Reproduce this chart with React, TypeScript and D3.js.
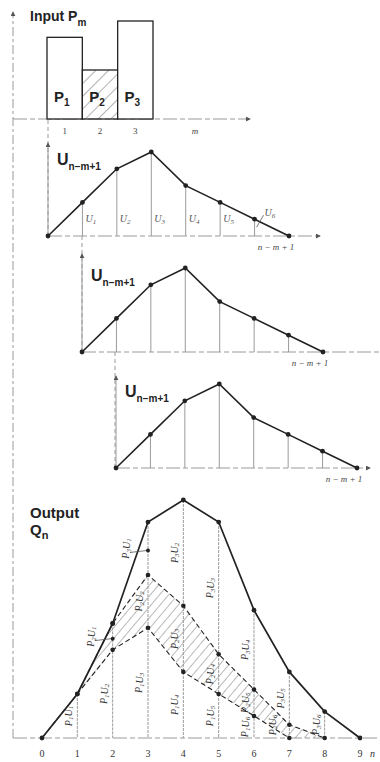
import React from "react";
import * as d3 from "d3";

// Rainfall excess pulses P_m (m = 1..3)
const periods = [1, 2, 3];
const inputP = [5, 3, 6];

// Unit hydrograph ordinates U_k at k = n - m + 1 = 0..7
const unitSteps = [0, 1, 2, 3, 4, 5, 6, 7];
const unitU = [0, 2, 4, 5, 3, 2, 1, 0];

// Direct runoff Q_n split into the contribution of each pulse, n = 0..9
const outSteps = [0, 1, 2, 3, 4, 5, 6, 7, 8, 9];
const fromP1 = [0, 10, 20, 25, 15, 10, 5, 0, 0, 0];
const fromP2 = [0, 0, 6, 12, 15, 9, 6, 3, 0, 0];
const fromP3 = [0, 0, 0, 12, 24, 30, 18, 12, 6, 0];

const INK = "#222";
const GREY = "#9a9a9a";
const SANS = "Liberation Sans, Arial, sans-serif";
const SERIF = "Liberation Serif, Times New Roman, serif";

function PU({ x, y, m, k, rotate = true, size = 10 }: any) {
  return (
    <text
      x={x}
      y={y}
      transform={rotate ? `rotate(-90 ${x} ${y})` : undefined}
      textAnchor="middle"
      dominantBaseline="central"
      fontFamily={SERIF}
      fontStyle="italic"
      fontSize={size}
      fill="#333"
    >
      P<tspan dy={3} fontSize={size * 0.7}>{m}</tspan>
      <tspan dy={-3}>U</tspan>
      <tspan dy={3} fontSize={size * 0.7}>{k}</tspan>
    </text>
  );
}

function UPanel({ x0, y0, xEnd, yTop, showU, leaderU6 }: any) {
  const x = d3.scaleLinear().domain([0, 7]).range([x0, x0 + 241]);
  const y = d3.scaleLinear().domain([0, 5]).range([y0, y0 - 84]);
  const line = d3
    .line<number>()
    .x((_, i) => x(unitSteps[i]))
    .y((d) => y(d));
  return (
    <g>
      <line x1={x0} y1={y0} x2={x0} y2={yTop} stroke={GREY} strokeWidth={1} markerEnd="url(#arrow)" />
      <line x1={x0} y1={y0} x2={xEnd} y2={y0} stroke={GREY} strokeWidth={1} strokeDasharray="14 3 5 3" markerEnd={xEnd < 376 ? "url(#arrow)" : undefined} />
      {unitSteps.slice(1, 7).map((s, i) => (
        <line key={s} x1={x(s)} x2={x(s)} y1={y(unitU[i + 1])} y2={y0} stroke={GREY} strokeWidth={1} />
      ))}
      <path d={line(unitU) || ""} fill="none" stroke={INK} strokeWidth={1.6} />
      {unitU.map((v, i) => (
        <circle key={i} cx={x(unitSteps[i])} cy={y(v)} r={2.4} fill={INK} />
      ))}
      <text x={x0 + 9} y={y0 - 71} fontFamily={SANS} fontWeight="bold" fontSize={16} fill={INK}>
        U
        <tspan dy={5} fontSize={10}>n−m+1</tspan>
      </text>
      <text x={x(7) - 13} y={y0 + 14} textAnchor="middle" fontFamily={SERIF} fontStyle="italic" fontSize={9} fill="#444">
        n − m + 1
      </text>
      {showU &&
        unitSteps.slice(1, 6).map((s) => (
          <text key={s} x={x(s) + 3} y={y0 - 14} fontFamily={SERIF} fontStyle="italic" fontSize={10} fill="#555">
            U<tspan dy={2} fontSize={7}>{s}</tspan>
          </text>
        ))}
      {leaderU6 && (
        <g>
          <line x1={x(6) + 2} y1={y(unitU[6]) + 8} x2={x(6) + 9} y2={y(unitU[6]) - 4} stroke="#555" strokeWidth={0.8} />
          <text x={x(6) + 10} y={y(unitU[6]) - 3} fontFamily={SERIF} fontStyle="italic" fontSize={10} fill="#555">
            U<tspan dy={2} fontSize={7}>6</tspan>
          </text>
        </g>
      )}
    </g>
  );
}

export default function App() {
  // Input pulses
  const xBar = d3.scaleLinear().domain([0, 3]).range([47, 153]);
  const yBar = d3.scaleLinear().domain([0, 6]).range([119, 21]);

  // Output hydrograph
  const xOut = d3.scaleLinear().domain([0, 9]).range([42, 360]);
  const yOut = d3.scaleLinear().domain([0, 54]).range([738, 500]);

  const table = outSteps.map((n, i) => ({ n, p1: fromP1[i], p2: fromP2[i], p3: fromP3[i] }));
  const stacked = d3.stack<any>().keys(["p1", "p2", "p3"])(table);
  const top1 = stacked[0].map((d) => d[1]);
  const top2 = stacked[1].map((d) => d[1]);
  const total = stacked[2].map((d) => d[1]);

  const lineOf = (vals: number[], from: number, to: number) =>
    d3
      .line<number>()
      .x((_, i) => xOut(outSteps[from + i]))
      .y((d) => yOut(d))(vals.slice(from, to + 1)) || "";

  const band =
    d3
      .area<number>()
      .x((n) => xOut(n))
      .y0((n) => yOut(top1[n]))
      .y1((n) => yOut(top2[n]))(outSteps.slice(1, 9)) || "";

  // Contribution labels P_m U_(n-m+1) on each vertical
  const labels: { n: number; m: number; lo: number; hi: number }[] = [];
  outSteps.forEach((n, i) => {
    const layers = [
      [0, top1[i]],
      [top1[i], top2[i]],
      [top2[i], total[i]],
    ];
    [fromP1, fromP2, fromP3].forEach((arr, j) => {
      if (arr[i] > 0) labels.push({ n, m: j + 1, lo: layers[j][0], hi: layers[j][1] });
    });
  });

  return (
    <svg width={380} height={762} style={{ position: "absolute", left: 0, top: 0, background: "#fff" }}>
      <defs>
        <marker id="arrow" viewBox="0 0 6 6" refX={5} refY={3} markerWidth={5} markerHeight={5} orient="auto">
          <path d="M0,0 L6,3 L0,6 z" fill="#555" />
        </marker>
        <pattern id="hatchBar" width={9} height={9} patternUnits="userSpaceOnUse" patternTransform="rotate(45)">
          <line x1={0} y1={0} x2={0} y2={9} stroke="#666" strokeWidth={1} />
        </pattern>
        <pattern id="hatchBand" width={7} height={7} patternUnits="userSpaceOnUse" patternTransform="rotate(40)">
          <line x1={0} y1={0} x2={0} y2={7} stroke="#666" strokeWidth={0.9} />
        </pattern>
      </defs>

      {/* long dashed guide on the left, shared by input and output axes */}
      <line x1={13} y1={738} x2={13} y2={12} stroke={GREY} strokeWidth={1} strokeDasharray="9 3 3 3" markerEnd="url(#arrow)" />

      {/* ---- Input P_m ---- */}
      <line x1={13} y1={119} x2={250} y2={119} stroke={GREY} strokeWidth={1} strokeDasharray="14 3 5 3" markerEnd="url(#arrow)" />
      {inputP.map((p, i) => (
        <rect
          key={i}
          x={xBar(i)}
          y={yBar(p)}
          width={xBar(i + 1) - xBar(i)}
          height={yBar(0) - yBar(p)}
          fill={i === 1 ? "url(#hatchBar)" : "#fff"}
          stroke={INK}
          strokeWidth={1.3}
        />
      ))}
      {inputP.map((_, i) => (
        <text key={i} x={xBar(i + 0.5) - 3} y={102} textAnchor="middle" fontFamily={SANS} fontWeight="bold" fontSize={15} fill={INK}>
          P<tspan dy={4} fontSize={10}>{periods[i]}</tspan>
        </text>
      ))}
      {periods.map((m, i) => (
        <text key={m} x={xBar(i + 0.5)} y={134} textAnchor="middle" fontFamily={SERIF} fontSize={9} fill="#444">
          {m}
        </text>
      ))}
      <text x={195} y={134} textAnchor="middle" fontFamily={SERIF} fontStyle="italic" fontSize={9} fill="#444">m</text>
      <text x={30} y={21} fontFamily={SANS} fontWeight="bold" fontSize={14} fill={INK}>
        Input P<tspan dy={5} fontSize={10}>m</tspan>
      </text>

      {/* dashed lag guides between the shifted unit hydrographs */}
      <line x1={48} y1={120} x2={48} y2={236} stroke={GREY} strokeWidth={1} strokeDasharray="4 3" />
      <line x1={82} y1={236} x2={82} y2={352} stroke={GREY} strokeWidth={1} strokeDasharray="4 3" />
      <line x1={115} y1={352} x2={115} y2={468} stroke={GREY} strokeWidth={1} strokeDasharray="4 3" />

      {/* ---- Shifted unit hydrographs ---- */}
      <UPanel x0={48} y0={236} xEnd={320} yTop={143} showU leaderU6 />
      <UPanel x0={82} y0={352} xEnd={380} yTop={254} />
      <UPanel x0={116} y0={468} xEnd={370} yTop={376} />

      {/* ---- Output Q_n ---- */}
      <line x1={13} y1={738} x2={378} y2={738} stroke={GREY} strokeWidth={1} strokeDasharray="14 3 5 3" />
      <path d={band} fill="url(#hatchBand)" stroke="none" />
      {outSteps.slice(1, 9).map((n, i) => (
        <line key={n} x1={xOut(n)} x2={xOut(n)} y1={yOut(total[i + 1])} y2={738} stroke={GREY} strokeWidth={1} strokeDasharray="3 1" />
      ))}
      <path d={lineOf(top1, 0, 7)} fill="none" stroke={INK} strokeWidth={1.1} strokeDasharray="5 3" />
      <path d={lineOf(top2, 1, 8)} fill="none" stroke={INK} strokeWidth={1.1} strokeDasharray="5 3" />
      <path d={lineOf(total, 0, 9)} fill="none" stroke={INK} strokeWidth={1.7} />
      {outSteps.slice(1, 8).map((n) => (
        <circle key={"a" + n} cx={xOut(n)} cy={yOut(top1[n])} r={2.3} fill={INK} />
      ))}
      {outSteps.slice(2, 9).map((n) => (
        <circle key={"b" + n} cx={xOut(n)} cy={yOut(top2[n])} r={2.3} fill={INK} />
      ))}
      {outSteps.map((n) => (
        <circle key={"c" + n} cx={xOut(n)} cy={yOut(total[n])} r={2.4} fill={INK} />
      ))}

      {labels.map((l) => {
        const lead = (l.n === 2 && l.m === 2) || (l.n === 3 && l.m === 3);
        const mid = yOut((l.lo + l.hi) / 2);
        const span = yOut(l.lo) - yOut(l.hi);
        const cy = span < 20 ? 738 - 13 : mid;
        const cx = xOut(l.n) - (lead ? 22 : 9) + (span < 20 && l.n >= 7 ? -8 : 0);
        return (
          <g key={`${l.n}-${l.m}`}>
            {lead && (
              <>
                <line x1={cx + 4} y1={cy + 4} x2={xOut(l.n) - 1} y2={mid + 2} stroke="#555" strokeWidth={0.8} />
                <circle cx={xOut(l.n)} cy={mid + 2} r={2} fill={INK} />
              </>
            )}
            <PU x={cx} y={cy} m={l.m} k={l.n - l.m + 1} />
          </g>
        );
      })}

      {outSteps.map((n) => (
        <text key={n} x={xOut(n)} y={757} textAnchor="middle" fontFamily={SERIF} fontSize={10} fill="#333">
          {n}
        </text>
      ))}
      <text x={370} y={757} fontFamily={SERIF} fontStyle="italic" fontSize={10} fill="#333">n</text>

      <text x={30} y={518} fontFamily={SANS} fontWeight="bold" fontSize={15} fill={INK}>Output</text>
      <text x={30} y={535} fontFamily={SANS} fontWeight="bold" fontSize={15} fill={INK}>
        Q<tspan dy={4} fontSize={11}>n</tspan>
      </text>
    </svg>
  );
}
